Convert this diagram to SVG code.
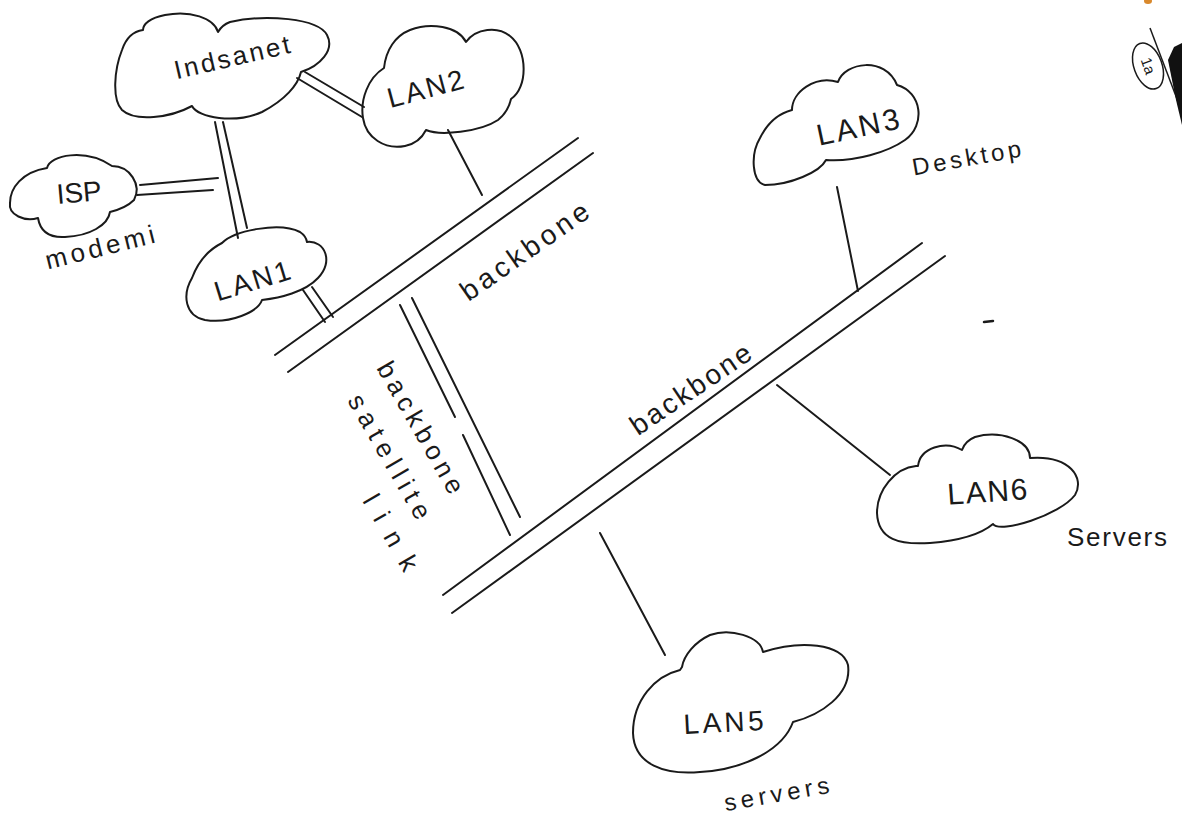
<svg xmlns="http://www.w3.org/2000/svg" width="1182" height="819" viewBox="0 0 1182 819">
  <style>
    .cloud { fill: none; stroke: #1a1a1a; stroke-width: 2; stroke-linejoin: round; stroke-linecap: round; }
    .ln { fill: none; stroke: #1a1a1a; stroke-width: 2; stroke-linecap: round; }
    .lbl { font-family: "Liberation Sans", "DejaVu Sans", sans-serif; fill: #1a1a1a; text-anchor: middle; }
    .big { font-size: 28px; }
    .mid { font-size: 26px; }
  </style>
  <rect width="1182" height="819" fill="#ffffff"/>

  <g id="connectors">
    <!-- Indsanet - LAN2 double link -->
    <line class="ln" x1="297" y1="78" x2="362" y2="117"/>
    <line class="ln" x1="305" y1="72" x2="364" y2="107"/>
    <!-- Indsanet - LAN1 double link -->
    <line class="ln" x1="215" y1="122" x2="238" y2="238"/>
    <line class="ln" x1="223" y1="122" x2="247" y2="228"/>
    <!-- ISP - link double line -->
    <line class="ln" x1="140" y1="185" x2="218" y2="178"/>
    <line class="ln" x1="137" y1="195" x2="213" y2="190"/>
    <!-- LAN1 - upper backbone double link -->
    <line class="ln" x1="303" y1="290" x2="325" y2="322"/>
    <line class="ln" x1="312" y1="287" x2="333" y2="317"/>
    <!-- LAN2 - upper backbone -->
    <line class="ln" x1="448" y1="130" x2="482" y2="195"/>
    <!-- satellite link between backbones -->
    <line class="ln" x1="400" y1="305" x2="455" y2="417"/>
    <line class="ln" x1="463" y1="435" x2="510" y2="535"/>
    <line class="ln" x1="412" y1="298" x2="520" y2="517"/>
    <!-- LAN3 - lower backbone -->
    <line class="ln" x1="837" y1="187" x2="858" y2="291"/>
    <!-- LAN6 - lower backbone -->
    <line class="ln" x1="777" y1="385" x2="890" y2="475"/>
    <!-- LAN5 - lower backbone -->
    <line class="ln" x1="600" y1="533" x2="665" y2="655"/>
  </g>

  <g id="backbone-upper">
    <line class="ln" x1="275" y1="355" x2="578" y2="138"/>
    <line class="ln" x1="288" y1="372" x2="593" y2="153"/>
    <text class="lbl big" x="530" y="259" textLength="150" lengthAdjust="spacing" transform="rotate(-35 530 259)">backbone</text>
  </g>

  <g id="backbone-lower">
    <line class="ln" x1="443" y1="595" x2="922" y2="243"/>
    <line class="ln" x1="452" y1="613" x2="945" y2="256"/>
    <text class="lbl big" x="696" y="397" textLength="140" lengthAdjust="spacing" transform="rotate(-34 696 397)">backbone</text>
  </g>

  <g id="satellite-label">
    <text class="lbl mid" x="413" y="432" textLength="148" lengthAdjust="spacing" transform="rotate(60 413 432)">backbone</text>
    <text class="lbl mid" x="382" y="461" textLength="140" lengthAdjust="spacing" transform="rotate(60 382 461)">satellite</text>
    <text class="lbl mid" x="383" y="537" textLength="84" lengthAdjust="spacing" transform="rotate(60 383 537)">link</text>
  </g>

  <g id="indsanet">
    <path class="cloud" d="M 143,30 Q 128,32 122,50 C 114,70 112,100 122,110 C 135,122 170,118 192,106 C 198,118 235,124 262,112 C 285,100 298,85 301,72 C 320,66 335,50 327,35 C 318,18 265,14 230,22 Q 222,25 218,32 C 214,18 190,10 165,15 C 150,18 143,24 143,30 Z"/>
    <text class="lbl mid" x="234" y="66" textLength="118" lengthAdjust="spacing" transform="rotate(-13 234 66)">Indsanet</text>
  </g>

  <g id="lan2">
    <path class="cloud" d="M 384,68 C 368,78 360,100 363,118 C 366,138 385,150 405,146 C 415,144 422,138 426,130 C 440,136 480,132 498,120 Q 508,112 511,99 C 528,88 528,50 510,36 C 498,26 476,28 466,42 C 458,26 430,22 410,30 C 395,36 386,50 384,68 Z"/>
    <text class="lbl big" x="428" y="98" textLength="78" lengthAdjust="spacing" transform="rotate(-15 428 98)">LAN2</text>
  </g>

  <g id="isp">
    <path class="cloud" d="M 47,168 C 50,155 85,148 112,166 C 130,166 142,185 134,200 Q 126,208 110,212 C 108,225 90,236 65,237 C 48,238 40,230 38,218 C 25,222 8,215 10,203 C 10,188 22,172 47,168 Z"/>
    <text class="lbl" style="font-size:28px" x="80" y="202" transform="rotate(-5 80 202)">ISP</text>
    <text class="lbl mid" x="102" y="256" textLength="112" lengthAdjust="spacing" transform="rotate(-14 102 256)">modemi</text>
  </g>

  <g id="lan1">
    <path class="cloud" d="M 222,243 C 235,230 280,222 300,232 Q 306,236 307,242 C 325,240 334,262 318,278 C 305,292 280,298 262,300 C 258,312 230,324 205,320 C 185,316 182,295 192,278 C 198,262 208,250 222,243 Z"/>
    <text class="lbl big" x="255" y="290" textLength="78" lengthAdjust="spacing" transform="rotate(-17 255 290)">LAN1</text>
  </g>

  <g id="lan3">
    <path class="cloud" d="M 792,110 C 792,92 815,75 838,82 C 845,62 885,56 897,85 C 922,92 926,125 905,140 C 888,152 855,162 826,160 C 820,172 790,185 765,185 C 752,182 750,155 760,138 C 768,122 780,113 792,110 Z"/>
    <text class="lbl" style="font-size:30px" x="860" y="137" textLength="84" lengthAdjust="spacing" transform="rotate(-12 860 137)">LAN3</text>
    <text class="lbl" style="font-size:24px" x="968" y="166" textLength="110" lengthAdjust="spacing" transform="rotate(-10 968 166)">Desktop</text>
  </g>

  <g id="lan6">
    <path class="cloud" d="M 916,466 C 895,468 877,490 877,513 C 878,540 900,545 930,543 C 955,541 980,535 993,524 C 1000,534 1060,515 1075,495 C 1085,478 1070,455 1030,458 C 1030,440 1000,430 975,437 Q 965,441 962,450 C 945,440 920,448 918,466 Z"/>
    <text class="lbl" style="font-size:30px" x="988" y="502" textLength="80" lengthAdjust="spacing" transform="rotate(-4 988 502)">LAN6</text>
    <text class="lbl mid" x="1117" y="546" textLength="100" lengthAdjust="spacing">Servers</text>
  </g>

  <g id="lan5">
    <path class="cloud" d="M 680,670 C 655,676 633,700 633,733 C 634,765 665,775 700,772 C 740,770 782,752 793,722 C 820,715 852,695 848,665 C 842,643 800,640 763,652 C 760,636 730,628 710,635 C 695,642 684,655 682,667 Z"/>
    <text class="lbl big" x="724" y="732" textLength="80" lengthAdjust="spacing" transform="rotate(-3 724 732)">LAN5</text>
    <text class="lbl" style="font-size:24px" x="778" y="802" textLength="106" lengthAdjust="spacing" transform="rotate(-10 778 802)">servers</text>
  </g>

  <g id="page-marks">
    <line class="ln" x1="984" y1="322" x2="993" y2="321" style="stroke-width:2.5"/>
    <ellipse cx="1148" cy="66" rx="14" ry="24" transform="rotate(-20 1148 66)" fill="none" stroke="#1a1a1a" stroke-width="1.5"/>
    <text class="lbl" style="font-size:15px" x="1148" y="71" transform="rotate(70 1148 66)">1a</text>
    <line x1="1150" y1="28" x2="1182" y2="112" stroke="#1a1a1a" stroke-width="1.5"/>
    <polygon points="1168,60 1174,47 1182,43 1182,125 1176,100" fill="#111111"/>
    <ellipse cx="1148" cy="1" rx="4" ry="3" fill="#d9892c"/>
  </g>
</svg>
